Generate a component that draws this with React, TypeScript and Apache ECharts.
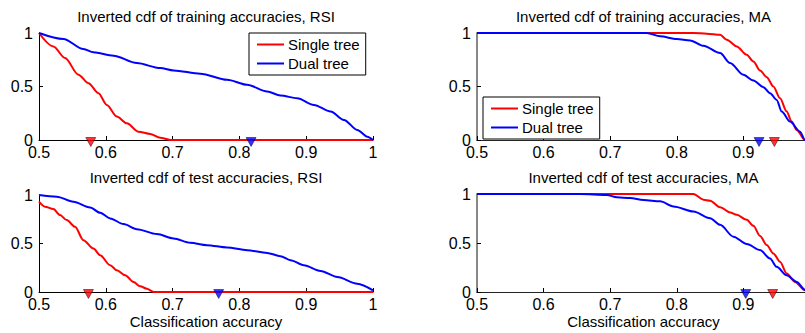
import React, { useEffect, useRef } from "react";
import * as echarts from "echarts";

const titles = [
  "Inverted cdf of training accuracies, RSI",
  "Inverted cdf of training accuracies, MA",
  "Inverted cdf of test accuracies, RSI",
  "Inverted cdf of test accuracies, MA",
];
const xTicks = { min: 0.5, max: 1, interval: 0.1 };
const yTicks = { min: 0, max: 1, interval: 0.5 };
const xName = "Classification accuracy";
const legendNames = ["Single tree", "Dual tree"];

const trainRsiSingle = [
  [0.5, 1], [0.5215, 0.875], [0.539, 0.766], [0.559, 0.61], [0.574, 0.531], [0.589, 0.4375],
  [0.6015, 0.328], [0.6165, 0.219], [0.6315, 0.156], [0.649, 0.078], [0.6665, 0.056],
  [0.6815, 0.022], [0.6965, 0], [1, 0],
];
const trainRsiDual = [
  [0.5, 1], [0.5365, 0.944], [0.5665, 0.85], [0.5815, 0.819], [0.6115, 0.7875], [0.6465, 0.719],
  [0.6815, 0.672], [0.7015, 0.65], [0.7415, 0.619], [0.7815, 0.5625], [0.8115, 0.516],
  [0.8415, 0.453], [0.8615, 0.416], [0.8865, 0.39], [0.9115, 0.328], [0.9365, 0.266],
  [0.9565, 0.1875], [0.9765, 0.094], [0.9915, 0.031], [1, 0],
];
const trainMaSingle = [
  [0.5, 1], [0.745, 1], [0.825, 1], [0.845, 0.994], [0.865, 0.984], [0.875, 0.9375],
  [0.89, 0.875], [0.905, 0.797], [0.915, 0.734], [0.925, 0.65], [0.935, 0.5875], [0.945, 0.5],
  [0.955, 0.39], [0.965, 0.266], [0.9725, 0.172], [0.98, 0.094], [0.9925, 0], [1, 0],
];
const trainMaDual = [
  [0.5, 1], [0.755, 1], [0.775, 0.969], [0.8, 0.944], [0.82, 0.931], [0.84, 0.881],
  [0.865, 0.8125], [0.88, 0.719], [0.9, 0.609], [0.915, 0.556], [0.93, 0.494], [0.94, 0.4375],
  [0.95, 0.375], [0.9575, 0.266], [0.97, 0.172], [0.985, 0.078], [0.9925, 0], [1, 0],
];
const testRsiSingle = [
  [0.5, 0.931], [0.509, 0.879], [0.5215, 0.855], [0.5315, 0.793], [0.5415, 0.741], [0.554, 0.672],
  [0.5665, 0.534], [0.5815, 0.448], [0.5915, 0.379], [0.6065, 0.276], [0.6165, 0.224],
  [0.629, 0.172], [0.6415, 0.103], [0.6515, 0.059], [0.6615, 0.034], [0.6715, 0], [1, 0],
];
const testRsiDual = [
  [0.5, 1], [0.5265, 0.983], [0.5515, 0.931], [0.5765, 0.872], [0.5915, 0.817], [0.6065, 0.759],
  [0.6265, 0.7], [0.6465, 0.648], [0.6765, 0.597], [0.7015, 0.552], [0.7265, 0.507],
  [0.7515, 0.483], [0.7815, 0.459], [0.8115, 0.431], [0.8415, 0.403], [0.8615, 0.369],
  [0.8765, 0.328], [0.8965, 0.276], [0.9215, 0.217], [0.9465, 0.155], [0.9765, 0.086], [1, 0.017],
];
const testMaSingle = [
  [0.5, 1], [0.825, 1], [0.84, 0.942], [0.85, 0.932], [0.865, 0.866], [0.88, 0.812],
  [0.89, 0.788], [0.905, 0.736], [0.915, 0.675], [0.925, 0.572], [0.935, 0.479], [0.945, 0.394],
  [0.955, 0.308], [0.965, 0.188], [0.9775, 0.103], [0.9925, 0.017], [1, 0],
];
const testMaDual = [
  [0.5, 1], [0.655, 1], [0.695, 0.99], [0.71, 0.966], [0.73, 0.959], [0.75, 0.938],
  [0.775, 0.925], [0.795, 0.873], [0.825, 0.822], [0.85, 0.753], [0.865, 0.685], [0.885, 0.565],
  [0.905, 0.49], [0.925, 0.428], [0.94, 0.342], [0.95, 0.257], [0.965, 0.171], [0.98, 0.103],
  [0.9925, 0.024], [1, 0],
];
// median markers per panel (train RSI, train MA, test RSI, test MA)
const medianSingle = [0.5775, 0.9465, 0.574, 0.944];
const medianDual = [0.8175, 0.9235, 0.769, 0.9035];

const singleSeries = [trainRsiSingle, trainMaSingle, testRsiSingle, testMaSingle];
const dualSeries = [trainRsiDual, trainMaDual, testRsiDual, testMaDual];

const FONT = "'Liberation Sans', Arial, Helvetica, sans-serif";
const RED = "#ff0000";
const BLUE = "#0000ff";

const grids = [
  { left: 39, top: 33, width: 334, height: 107 },
  { left: 477, top: 33, width: 333, height: 107 },
  { left: 39, top: 195, width: 334, height: 97 },
  { left: 477, top: 194, width: 333, height: 98 },
];
const titleY = [16, 16, 177, 177];

export default function App() {
  const ref = useRef<HTMLDivElement>(null);
  useEffect(() => {
    if (!ref.current) return;
    const chart = echarts.init(ref.current, undefined, { renderer: "svg" });
    const xAxes: any[] = [];
    const yAxes: any[] = [];
    const series: any[] = [];
    const graphics: any[] = [];
    grids.forEach((g, i) => {
      const right = i % 2 === 1;
      const bottom = i >= 2;
      xAxes.push({
        gridIndex: i,
        type: "value",
        min: xTicks.min,
        max: xTicks.max,
        interval: xTicks.interval,
        axisLine: { onZero: false, lineStyle: { color: right ? "#222" : "#000", width: 1 } },
        axisTick: { inside: true, length: 4, lineStyle: { color: "#000" } },
        axisLabel: {
          color: "#000",
          fontSize: 16,
          lineHeight: 14,
          fontFamily: FONT,
          margin: 5,
          showMaxLabel: !right,
        },
        splitLine: { show: false },
        name: bottom ? xName : "",
        nameLocation: "middle",
        nameGap: 22,
        nameTextStyle: { color: "#000", fontSize: 15, fontFamily: FONT },
      });
      yAxes.push({
        gridIndex: i,
        type: "value",
        min: yTicks.min,
        max: yTicks.max,
        interval: yTicks.interval,
        axisLine: { show: true, lineStyle: { color: right ? "#888" : "#000", width: right ? 2 : 1 } },
        axisTick: { show: true, inside: true, length: 4, lineStyle: { color: "#000" } },
        axisLabel: { color: "#000", fontSize: 16, lineHeight: 10, fontFamily: FONT, margin: 6 },
        splitLine: { show: false },
      });
      series.push({
        type: "line",
        name: legendNames[0],
        xAxisIndex: i,
        yAxisIndex: i,
        data: singleSeries[i],
        showSymbol: false,
        smooth: 0.3,
        smoothMonotone: "x",
        lineStyle: { color: RED, width: 2 },
        itemStyle: { color: RED },
        z: 3,
      });
      series.push({
        type: "line",
        name: legendNames[1],
        xAxisIndex: i,
        yAxisIndex: i,
        data: dualSeries[i],
        showSymbol: false,
        smooth: 0.3,
        smoothMonotone: "x",
        lineStyle: { color: BLUE, width: 2 },
        itemStyle: { color: BLUE },
        z: 3,
      });
      series.push({
        type: "scatter",
        name: "median",
        xAxisIndex: i,
        yAxisIndex: i,
        clip: false,
        symbol: "triangle",
        symbolRotate: 180,
        symbolSize: [10, 9],
        symbolOffset: [0, 2],
        data: [
          { value: [medianSingle[i], 0], itemStyle: { color: RED } },
          { value: [medianDual[i], 0], itemStyle: { color: BLUE } },
        ],
        itemStyle: { borderColor: "#000", borderWidth: 0.6 },
        z: 5,
      });
      graphics.push({
        type: "text",
        x: g.left + g.width / 2,
        y: titleY[i],
        style: {
          text: titles[i],
          fontSize: 15,
          fontFamily: FONT,
          fill: "#000",
          align: "center",
          verticalAlign: "middle",
        },
      });
    });
    const legendCommon = {
      orient: "vertical",
      data: legendNames,
      icon: "rect",
      itemWidth: 27,
      itemHeight: 2,
      itemGap: 4,
      borderColor: "#000",
      borderWidth: 1,
      backgroundColor: "#fff",
      padding: [4, 6, 4, 8],
      selectedMode: false,
      textStyle: { color: "#000", fontSize: 15, fontFamily: FONT, padding: [0, 0, 0, -1] },
    };
    chart.setOption({
      animation: false,
      backgroundColor: "#fff",
      grid: grids,
      xAxis: xAxes,
      yAxis: yAxes,
      series,
      graphic: graphics,
      legend: [
        { ...legendCommon, left: 249, top: 33 },
        { ...legendCommon, left: 483, top: 97 },
      ],
    });
    return () => chart.dispose();
  }, []);
  return (
    <div
      style={{ position: "absolute", left: 0, top: 0, width: 805, height: 333, overflow: "hidden", background: "#fff" }}
    >
      <div ref={ref} style={{ width: 830, height: 333 }} />
    </div>
  );
}
